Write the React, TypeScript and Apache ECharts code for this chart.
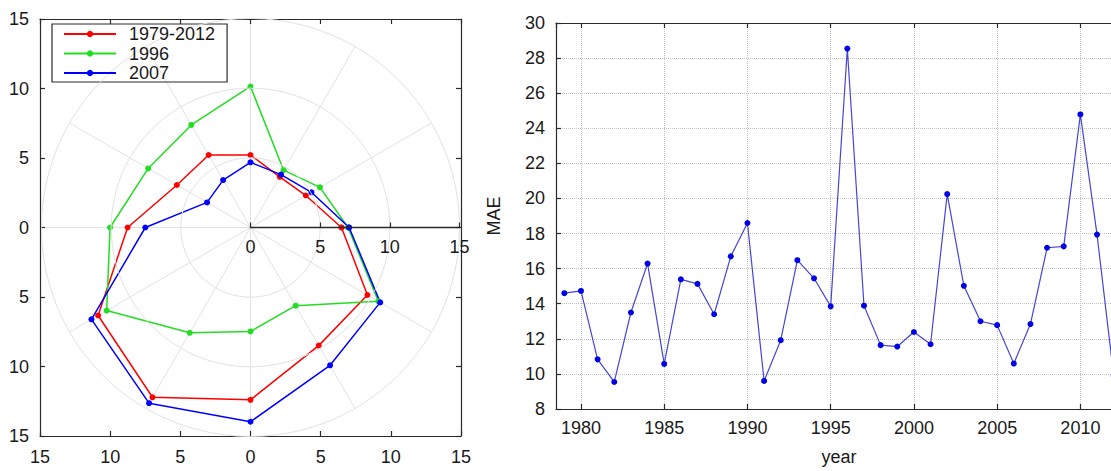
import React, { useEffect, useRef } from 'react';
import * as echarts from 'echarts';

// ---- Left panel (polar) data: radius per direction (degrees, counter-clockwise from east)
const polarAngles = [0, 30, 60, 90, 120, 150, 180, 210, 240, 270, 300, 330];
const r19792012 = [6.53, 4.59, 4.2, 5.2, 6.01, 6.1, 8.82, 12.63, 14.07, 12.37, 9.79, 9.69];
const r1996 = [7.0, 5.76, 4.75, 10.12, 8.5, 8.48, 10.08, 11.92, 8.73, 7.46, 6.48, 10.6];
const r2007 = [7.08, 5.05, 4.38, 4.68, 3.93, 3.6, 7.55, 13.18, 14.56, 13.94, 11.42, 10.75];
const legendNames = ['1979-2012', '1996', '2007'];

// ---- Right panel data
const years = [
  1979, 1980, 1981, 1982, 1983, 1984, 1985, 1986, 1987, 1988, 1989, 1990,
  1991, 1992, 1993, 1994, 1995, 1996, 1997, 1998, 1999, 2000, 2001, 2002,
  2003, 2004, 2005, 2006, 2007, 2008, 2009, 2010, 2011, 2012,
];
const mae = [
  14.6, 14.73, 10.83, 9.54, 13.5, 16.29, 10.57, 15.39, 15.13, 13.4, 16.7, 18.6,
  9.6, 11.92, 16.48, 15.45, 13.85, 28.54, 13.89, 11.64, 11.56, 12.39, 11.69, 20.25,
  15.02, 13.0, 12.78, 10.59, 12.84, 17.19, 17.27, 24.79, 17.94, 9.9,
];

const font = 'Arial, "Liberation Sans", Helvetica, sans-serif';
const axisColor = '#2a2a2a';
const textColor = '#1a1a1a';
const labelStyle = { color: textColor, fontSize: 18, fontFamily: font };

function closedPolar(r: number[]) {
  const pts = polarAngles.map((a, i) => [r[i], a]);
  pts.push([r[0], 360]);
  return pts;
}

function boxAxis(extra: any) {
  return {
    type: 'value',
    axisLine: { show: true, onZero: false, lineStyle: { color: axisColor, width: 1.2 } },
    axisTick: { show: true, inside: true, length: 5, lineStyle: { color: axisColor, width: 1.2 } },
    splitLine: { show: false },
    ...extra,
  };
}

const absFmt = (v: number) => String(Math.abs(v));

export default function App() {
  const ref = useRef<HTMLDivElement>(null);
  useEffect(() => {
    const prevOverflow = document.body.style.overflow;
    document.body.style.overflow = 'hidden';
    const chart = echarts.init(ref.current!, null, { renderer: 'svg' });
    const mkPolar = (name: string, r: number[], color: string) => ({
      name,
      type: 'line',
      coordinateSystem: 'polar',
      polarIndex: 0,
      data: closedPolar(r),
      symbol: 'circle',
      symbolSize: 6,
      lineStyle: { color, width: 1.5 },
      itemStyle: { color },
      z: 3,
    });
    const option: any = {
      animation: false,
      backgroundColor: '#ffffff',
      textStyle: { fontFamily: font },
      grid: [
        { left: 40, top: 19, width: 421, height: 417 },
        { left: 556, top: 23, width: 566, height: 391 },
      ],
      polar: { center: [250.5, 227.5], radius: [0, 209] },
      angleAxis: {
        type: 'value',
        min: 0,
        max: 360,
        interval: 30,
        startAngle: 0,
        clockwise: false,
        axisLine: { show: false },
        axisTick: { show: false },
        axisLabel: { show: false },
        splitLine: { show: true, lineStyle: { color: '#e2e2e2', width: 1 } },
      },
      radiusAxis: {
        type: 'value',
        min: 0,
        max: 15,
        interval: 5,
        axisLine: { show: true, lineStyle: { color: axisColor, width: 1.3 } },
        axisTick: { show: true, length: 5, lineStyle: { color: axisColor, width: 1.2 } },
        axisLabel: { show: true, margin: -19, verticalAlign: 'middle', align: 'center', ...labelStyle },
        splitLine: { show: true, lineStyle: { color: '#e2e2e2', width: 1 } },
        z: 4,
      },
      xAxis: [
        boxAxis({
          gridIndex: 0, min: -15, max: 15, interval: 5, position: 'bottom',
          axisLabel: { ...labelStyle, margin: 12, formatter: absFmt },
        }),
        boxAxis({
          gridIndex: 0, min: -15, max: 15, interval: 5, position: 'top',
          axisLabel: { show: false },
        }),
        boxAxis({
          gridIndex: 1, min: 1978.5, max: 2012.5, splitNumber: 7, position: 'bottom',
          axisLabel: {
            ...labelStyle, margin: 10, showMinLabel: false, showMaxLabel: false,
            formatter: (v: number) => String(v),
          },
          splitLine: { show: true, lineStyle: { color: '#c4c4c4', type: 'dotted', width: 1 } },
          name: 'year',
          nameLocation: 'middle',
          nameGap: 39,
          nameTextStyle: { ...labelStyle },
        }),
        boxAxis({
          gridIndex: 1, min: 1978.5, max: 2012.5, splitNumber: 7, position: 'top',
          axisLabel: { show: false },
        }),
      ],
      yAxis: [
        boxAxis({
          gridIndex: 0, min: -15, max: 15, interval: 5, position: 'left',
          axisLabel: { ...labelStyle, margin: 11, formatter: absFmt },
        }),
        boxAxis({
          gridIndex: 0, min: -15, max: 15, interval: 5, position: 'right',
          axisLabel: { show: false },
        }),
        boxAxis({
          gridIndex: 1, min: 8, max: 30, interval: 2, position: 'left',
          axisLabel: { ...labelStyle, margin: 11 },
          splitLine: { show: true, lineStyle: { color: '#c4c4c4', type: 'dotted', width: 1 } },
          name: 'MAE',
          nameLocation: 'middle',
          nameGap: 53,
          nameRotate: 90,
          nameTextStyle: { ...labelStyle },
        }),
        boxAxis({
          gridIndex: 1, min: 8, max: 30, interval: 2, position: 'right',
          axisLabel: { show: false },
        }),
      ],
      legend: {
        data: legendNames,
        left: 52,
        top: 24,
        orient: 'vertical',
        itemWidth: 52,
        itemHeight: 8,
        itemGap: 1.5,
        padding: [1, 12, 0, 11],
        borderColor: axisColor,
        borderWidth: 1.2,
        backgroundColor: 'transparent',
        textStyle: { ...labelStyle, lineHeight: 18, padding: [0, 0, 0, 8] },
      },
      series: [
        mkPolar(legendNames[0], r19792012, '#ff0000'),
        mkPolar(legendNames[1], r1996, '#22dd22'),
        mkPolar(legendNames[2], r2007, '#0000ff'),
        {
          name: 'MAE',
          type: 'line',
          xAxisIndex: 2,
          yAxisIndex: 2,
          data: years.map((y, i) => [y, mae[i]]),
          symbol: 'circle',
          symbolSize: 6,
          lineStyle: { color: '#4545d6', width: 1.2 },
          itemStyle: { color: '#0000e6' },
        },
      ],
    };
    chart.setOption(option);
    return () => {
      chart.dispose();
      document.body.style.overflow = prevOverflow;
    };
  }, []);
  return (
    <div
      ref={ref}
      style={{ position: 'fixed', left: 0, top: 0, width: 1150, height: 471, background: '#fff' }}
    />
  );
}
